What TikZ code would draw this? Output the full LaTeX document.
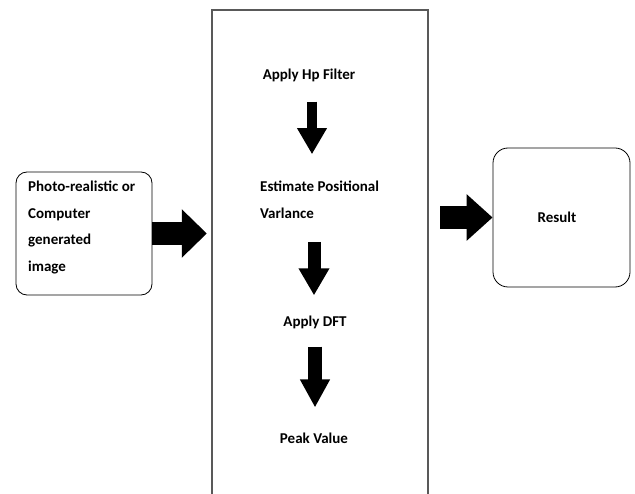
\documentclass[tikz,border=0pt]{standalone}
\usepackage{fontspec}
\setmainfont{Carlito}
\usetikzlibrary{arrows.meta}
\begin{document}
\begin{tikzpicture}[x=1pt,y=-1pt,
  lbl/.style={font=\bfseries\fontsize{15}{26.5}\selectfont, inner sep=0pt},
  roundbox/.style={draw=black, line width=0.8pt, rounded corners=11pt, inner sep=0pt},
]
\useasboundingbox (0,0) rectangle (635,494);
\fill[white] (0,0) rectangle (635,494);
% boxes
\node[roundbox, minimum width=136pt, minimum height=123pt] (inp) at (84,233.5) {};
\node[lbl, align=left, anchor=north west] (inptext) at (28,181)
  {Photo-realistic or\\Computer\\generated\\image};
\draw[draw=black!65, line width=1.3pt] (212,520) |- (428,10) -- (428,520);
\node[inner sep=0pt, minimum width=216pt, minimum height=520pt] (mid) at (320,270) {};
\node[roundbox, rounded corners=15pt, minimum width=137pt, minimum height=139pt] (res) at (561.5,217.5) {};
\node[lbl] (restext) at (557,217) {Result};
% middle texts
\node[lbl] (hp) at (309,75) {Apply Hp Filter};
\node[lbl, align=left, anchor=west] (est) at (260,200) {Estimate Positional\\Varlance};
\node[lbl] (dft) at (315,322) {Apply DFT};
\node[lbl] (pk) at (314,438) {Peak Value};
% arrows
\draw[line width=23pt, -{Triangle[width=47pt,length=25pt]}, shorten >=5pt]
  (inp.east) -- (inp.east -| mid.west);
\draw[line width=23pt, -{Triangle[width=45pt,length=26pt]}, shorten <=12pt]
  (res.west -| mid.east) -- (res.west);
\draw[line width=10pt, -{Triangle[width=28pt,length=26pt]}, shorten <=20pt, shorten >=27pt]
  (hp.south -| 312,0) -- (est.north -| 312,0);
\draw[line width=13pt, -{Triangle[width=29pt,length=27pt]}, shorten <=23pt, shorten >=20pt]
  (est.south -| 314,0) -- (dft.north -| 314,0);
\draw[line width=14pt, -{Triangle[width=28pt,length=28pt]}, shorten <=18pt, shorten >=25pt]
  (dft.south -| 315,0) -- (pk.north -| 315,0);
\end{tikzpicture}
\end{document}
